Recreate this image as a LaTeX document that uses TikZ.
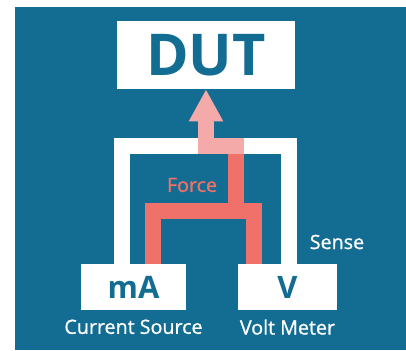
\documentclass[tikz,border=0pt]{standalone}
\usepackage{fontspec}
\setmainfont{Open Sans}
\newfontfamily\notefont{Open Sans}[FakeBold=0.9]
\usepackage{xcolor}
\usetikzlibrary{arrows.meta, positioning}

\definecolor{panelblue}{RGB}{19,109,146}
\definecolor{forcered}{RGB}{239,113,106}
\definecolor{forcepink}{RGB}{244,170,168}

\begin{document}
\begin{tikzpicture}[
  x=0.025cm, y=-0.025cm,
  box/.style={fill=white, inner sep=0pt, text=panelblue, font=\bfseries},
  note/.style={inner sep=0pt, text=white, font=\notefont\fontsize{14}{17}\selectfont},
  sense/.style={draw=white, line width=11.4pt},
  force/.style={draw=forcered, line width=11.4pt},
  forcein/.style={draw=forcepink, line width=11.9pt, -{Triangle[width=22.8pt, length=22.8pt]}}
]

% --- Panel ---
\useasboundingbox (0,0) rectangle (406,350);
\fill[panelblue] (15,7) rectangle (406,350);

% --- Device and instruments ---
\node[box, minimum width=4.45cm, minimum height=1.7cm, font=\bfseries\fontsize{41}{48}\selectfont] (dut) at (206,55) {DUT};
\node[box, minimum width=2.625cm, minimum height=1.15cm, font=\bfseries\fontsize{22}{26}\selectfont] (ma) at (133.5,287) {mA};
\node[box, minimum width=2.475cm, minimum height=1.15cm, font=\bfseries\fontsize{22}{26}\selectfont] (vm) at (287.5,287) {V};

% --- Sense loop ---
\draw[sense] ([xshift=-8.2pt]ma.north) -- ++(0,-118) -| ([xshift=1.1pt]vm.north);

% --- Force path ---
\coordinate (fj) at (236,211);
\coordinate (ftop) at (236,154);
\draw[force] ([xshift=13.9pt]ma.north) -- ++(0,-53) -| ([xshift=-23.8pt]vm.north);
\draw[force] (fj) -- (ftop);
\draw[forcein] (ftop) -- ++(0,-8) -| (dut.south);

% --- Labels ---
\node[note] (cslabel) [below=6.4pt of ma] {Current Source};
\node[note] (vmlabel) [below=6.4pt of vm] {Volt Meter};
\node[note] (senselabel) at (337,242) {Sense};
\node[note, text=forcered] (forcelabel) at (192,185) {Force};

\end{tikzpicture}
\end{document}
